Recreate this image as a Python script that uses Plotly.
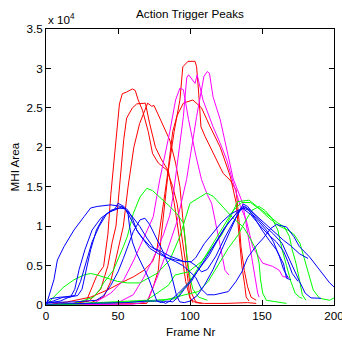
import plotly.graph_objects as go

# ---- data (values in units of 10^4 MHI area) ----
red_frames = [
    [0, 15, 28, 35, 40, 43, 45, 48, 51, 53, 56, 60, 62, 64, 67, 71, 74, 78, 84, 88, 91, 93, 95.5, 98, 100, 102],
    [0, 20, 30, 38, 43, 46, 48.6, 50, 52, 54, 56, 60, 63, 69, 72, 76, 80, 85, 89, 93, 97, 100, 104, 110, 125, 140, 146],
    [0, 30, 40, 45, 50, 53.7, 57, 61, 65, 70.6, 73.4, 75, 78, 81.5, 86, 90, 93, 95, 97, 99, 101, 104, 108],
    [0, 40, 65, 70, 74.5, 78, 80, 82.6, 85, 89, 93, 95, 98.6, 103.5, 104.6, 106, 107.6, 110.4, 114, 118.5, 123, 128, 132, 134, 135.4, 137.7, 140, 142.4, 146],
    [0, 15, 31, 42.6, 52, 61, 68, 74, 77, 81, 84, 86, 88, 91, 95.4, 102, 108, 114, 121, 128, 132, 134, 136, 138, 139, 141],
]
red_values = [
    [0, 0.01, 0.05, 0.36, 0.49, 0.9, 1.4, 2.0, 2.55, 2.68, 2.7, 2.74, 2.72, 2.6, 2.47, 2.2, 1.92, 1.8, 1.71, 1.5, 1.29, 1.04, 0.74, 0.4, 0.1, 0.03],
    [0, 0.02, 0.05, 0.2, 0.5, 0.8, 1.0, 1.3, 1.71, 2.1, 2.37, 2.5, 2.55, 2.56, 2.3, 2.0, 1.85, 1.7, 1.3, 0.8, 0.3, 0.08, 0.03, 0.02, 0.02, 0.03, 0.02],
    [0, 0.02, 0.1, 0.3, 0.7, 1.0, 1.5, 2.0, 2.3, 2.56, 2.52, 2.53, 2.41, 2.26, 2.09, 1.8, 1.5, 1.1, 0.7, 0.4, 0.15, 0.04, 0.02],
    [0, 0.01, 0.01, 0.02, 0.23, 0.44, 0.87, 1.29, 1.71, 2.2, 2.6, 3.02, 3.09, 3.09, 3.02, 2.7, 2.26, 2.14, 2.0, 1.84, 1.67, 1.58, 1.46, 1.08, 0.74, 0.44, 0.23, 0.1, 0.06],
    [0, 0.04, 0.1, 0.19, 0.28, 0.36, 0.44, 0.55, 0.7, 1.2, 1.6, 1.9, 2.2, 2.4, 2.56, 2.6, 2.5, 2.26, 2.0, 1.63, 1.3, 0.9, 0.5, 0.25, 0.1, 0.05],
]

magenta_frames = [
    [0, 33, 45, 54, 61, 65, 74.5, 79, 82, 86, 90, 93, 95.4, 99, 104, 108, 112, 115, 119.7, 124.3, 127],
    [0, 46.5, 51, 60.6, 67.6, 74.5, 81.5, 86, 88.4, 92, 95.4, 97.7, 99, 103.5, 105, 109, 116, 121, 125.5, 130, 135, 139, 143.5, 150.5, 157.4, 162, 164.4, 169],
    [0, 60, 70, 77, 84, 91, 97.6, 104.6, 109.7, 112, 113.5, 116, 121, 125.5, 130, 136.6, 140, 144.7, 147, 148],
]
magenta_values = [
    [0, 0.02, 0.15, 0.32, 0.57, 0.74, 1.12, 1.59, 1.85, 2.2, 2.6, 2.75, 2.73, 2.35, 1.9, 1.59, 1.4, 1.29, 0.87, 0.44, 0.38],
    [0, 0.02, 0.04, 0.13, 0.34, 0.59, 0.89, 1.14, 1.4, 1.9, 2.39, 2.88, 2.92, 2.81, 2.92, 2.6, 2.26, 2.05, 1.84, 1.55, 1.25, 1.08, 0.74, 0.53, 0.49, 0.44, 0.36, 0.35],
    [0, 0.01, 0.04, 0.34, 0.68, 1.06, 1.59, 2.39, 2.9, 2.96, 2.94, 2.64, 2.35, 1.96, 1.6, 1.29, 0.9, 0.36, 0.15, 0.1],
]

green_frames = [
    [0, 20, 33, 37.5, 40, 46.8, 53.7, 56.5, 60.6, 65.3, 70, 74, 77, 81.5, 86, 90.8, 95.4, 96.5, 98, 100, 102, 106, 112],
    [0, 1, 8, 12.5, 19.4, 26.4, 31, 35.6, 42.6, 49.5, 56.5, 65, 77, 86, 93, 96.5, 100, 107, 111.6, 116, 120, 125, 130, 137, 141, 146, 148, 149, 150.5, 153, 167],
    [0, 40, 70, 85, 89.6, 98.8, 108, 115, 122, 129, 133, 141, 148, 155, 161, 165.5, 169, 171, 173.6, 176, 178, 180.5],
    [0, 50, 80, 96.5, 105.8, 112.7, 119.7, 126.6, 133.5, 138, 143, 148, 152, 157, 161, 164, 167, 170, 173, 176, 178],
    [0, 30, 60, 90, 100, 110, 118, 125, 130, 136, 142, 148, 155, 162, 168, 172, 176.4, 181, 185.6, 190, 197, 200],
]
green_values = [
    [0, 0.02, 0.1, 0.2, 0.28, 0.44, 0.74, 0.87, 1.16, 1.37, 1.48, 1.45, 1.40, 1.33, 1.25, 1.16, 1.04, 0.87, 0.6, 0.35, 0.2, 0.1, 0.06],
    [0, 0.02, 0.15, 0.23, 0.32, 0.38, 0.40, 0.38, 0.34, 0.30, 0.28, 0.28, 0.40, 0.57, 0.87, 1.08, 1.29, 1.37, 1.42, 1.38, 1.3, 1.2, 1.1, 0.99, 0.87, 0.70, 0.53, 0.32, 0.15, 0.06, 0.02],
    [0, 0.03, 0.06, 0.25, 0.38, 0.42, 0.55, 0.72, 0.89, 1.15, 1.31, 1.33, 1.23, 1.12, 1.04, 0.99, 0.87, 0.70, 0.53, 0.32, 0.13, 0.06],
    [0, 0.03, 0.05, 0.13, 0.17, 0.30, 0.51, 0.72, 0.89, 1.05, 1.2, 1.25, 1.2, 1.1, 0.95, 0.7, 0.5, 0.3, 0.15, 0.1, 0.085],
    [0, 0.02, 0.04, 0.08, 0.3, 0.6, 0.85, 1.05, 1.2, 1.3, 1.3, 1.22, 1.1, 1.0, 0.95, 0.9, 0.78, 0.49, 0.19, 0.085, 0.06, 0.09],
]

blue_frames = [
    [0, 1, 5.5, 7.9, 12.5, 19.4, 26.4, 31, 35.6, 45, 52, 56, 60, 64, 68, 72, 78, 84, 90, 96, 100, 104, 108, 112, 118, 124, 130, 135, 138, 142, 148, 155, 160, 165, 170, 176, 182],
    [0, 5, 12, 20, 24, 28, 32, 37, 42, 48, 50, 54, 57, 60, 63, 67, 72, 78, 84, 90, 95, 100, 104, 108, 112, 117, 126.6, 132, 136, 140, 146, 151, 156, 160, 167, 172, 176, 183, 190, 197, 200],
    [0, 10, 16, 22, 25, 28, 31, 35, 40, 45, 50, 55, 57, 58, 60, 63, 67, 71, 74, 77, 80, 84, 88, 92, 96, 101, 106, 112, 118, 124, 130, 134, 137, 140, 145, 150, 155, 160, 165, 167, 170],
    [0, 20, 35, 40, 45, 50, 53.7, 57, 60.6, 65.3, 68.7, 72, 76.6, 81.2, 85.9, 88.2, 90.5, 92.8, 96, 100, 105, 110, 116, 122, 128, 133, 137, 140, 146, 152, 158, 164, 168, 172, 176, 180, 184, 191],
    [0, 3, 10, 17, 20, 23, 27, 32, 38, 44, 50, 53, 56, 60, 65, 70, 75, 80, 86, 92, 96, 101, 104, 110, 116, 122, 128, 133, 137, 142, 148, 154, 160, 165, 168, 171, 175],
    [0, 30, 55, 70, 80, 83, 86, 92, 100, 106, 113, 120, 127, 133, 137, 141, 147, 153, 158, 162, 165, 168],
]
blue_values = [
    [0.02, 0.05, 0.32, 0.57, 0.74, 0.95, 1.12, 1.23, 1.25, 1.27, 1.25, 1.2, 1.05, 0.92, 0.82, 0.72, 0.65, 0.6, 0.57, 0.55, 0.55, 0.5, 0.42, 0.45, 0.62, 0.85, 1.05, 1.2, 1.25, 1.2, 1.1, 0.98, 0.9, 0.82, 0.75, 0.65, 0.59],
    [0.03, 0.05, 0.1, 0.12, 0.3, 0.55, 0.8, 1.0, 1.15, 1.22, 1.29, 1.25, 1.2, 1.1, 0.95, 0.85, 0.75, 0.68, 0.6, 0.55, 0.5, 0.42, 0.35, 0.2, 0.13, 0.13, 0.17, 0.30, 0.42, 0.6, 0.75, 0.85, 0.97, 1.02, 0.99, 0.87, 0.74, 0.61, 0.44, 0.28, 0.23],
    [0.02, 0.05, 0.1, 0.12, 0.2, 0.45, 0.7, 0.95, 1.12, 1.2, 1.23, 1.22, 1.15, 1.0, 0.8, 0.65, 0.5, 0.35, 0.2, 0.05, 0.03, 0.05, 0.04, 0.1, 0.2, 0.3, 0.45, 0.62, 0.8, 0.98, 1.12, 1.2, 1.25, 1.22, 1.1, 0.95, 0.82, 0.7, 0.52, 0.34, 0.32],
    [0.03, 0.04, 0.06, 0.12, 0.25, 0.42, 0.59, 0.75, 0.93, 1.08, 1.10, 1.02, 0.85, 0.68, 0.47, 0.30, 0.13, 0.04, 0.03, 0.05, 0.12, 0.25, 0.45, 0.7, 0.95, 1.15, 1.28, 1.25, 1.12, 1.0, 0.9, 0.78, 0.62, 0.45, 0.3, 0.15, 0.09, 0.085],
    [0.02, 0.08, 0.1, 0.1, 0.2, 0.45, 0.7, 0.95, 1.1, 1.18, 1.22, 1.25, 1.2, 1.12, 1.0, 0.85, 0.72, 0.68, 0.62, 0.58, 0.55, 0.55, 0.6, 0.78, 0.92, 1.05, 1.15, 1.2, 1.22, 1.15, 1.02, 0.9, 0.8, 0.68, 0.55, 0.4, 0.3],
    [0.01, 0.02, 0.03, 0.05, 0.05, 0.02, 0.05, 0.15, 0.3, 0.45, 0.62, 0.85, 1.05, 1.18, 1.23, 1.2, 1.08, 0.95, 0.8, 0.62, 0.45, 0.35],
]

x_ticks = [0, 50, 100, 150, 200]
y_ticks = [0, 0.5, 1, 1.5, 2, 2.5, 3, 3.5]
y_tick_text = ["0", "0.5", "1", "1.5", "2", "2.5", "3", "3.5"]

FONT = "Liberation Sans, Arial, Helvetica, sans-serif"

fig = go.Figure()
groups = [
    (red_frames, red_values, "#ff0000"),
    (magenta_frames, magenta_values, "#ff00ff"),
    (green_frames, green_values, "#00ff00"),
    (blue_frames, blue_values, "#0000ff"),
]
for frames, values, color in groups:
    for fx, fy in zip(frames, values):
        fig.add_trace(go.Scatter(x=fx, y=fy, mode="lines",
                                 line=dict(color=color, width=1),
                                 showlegend=False, hoverinfo="skip"))

axis_common = dict(showline=True, linecolor="black", linewidth=1, mirror="ticks",
                   ticks="inside", ticklen=5, tickcolor="black", tickwidth=1,
                   showgrid=False, zeroline=False, ticklabeloverflow="allow",
                   automargin=False,
                   tickfont=dict(family=FONT, size=11.7, color="black"))
fig.update_xaxes(range=[0, 200], tickvals=x_ticks, **axis_common)
fig.update_yaxes(range=[0, 3.5], tickvals=y_ticks, ticktext=y_tick_text, **axis_common)

fig.update_layout(
    width=342, height=338,
    margin=dict(l=46, r=8, t=29, b=33, autoexpand=False),
    paper_bgcolor="white", plot_bgcolor="white",
    title=dict(text="Action Trigger Peaks", x=190 / 342, xanchor="center",
               y=1 - 14 / 338, yanchor="middle",
               font=dict(family=FONT, size=11.7, color="black")),
    annotations=[
        dict(text="x 10<sup>4</sup>", xref="paper", yref="paper", x=0.0, y=1 + 10 / 276,
             xanchor="left", yanchor="middle", showarrow=False,
             font=dict(family=FONT, size=11.7, color="black")),
        dict(text="Frame Nr", xref="paper", yref="paper", x=0.5, y=-(331 - 305) / 276,
             xanchor="center", yanchor="middle", showarrow=False,
             font=dict(family=FONT, size=11.7, color="black")),
        dict(text="MHI Area", xref="paper", yref="paper", x=(13.5 - 46) / 288, y=0.5,
             xanchor="center", yanchor="middle", textangle=-90, showarrow=False,
             font=dict(family=FONT, size=11.7, color="black")),
    ],
)

fig.write_html("out.html")
